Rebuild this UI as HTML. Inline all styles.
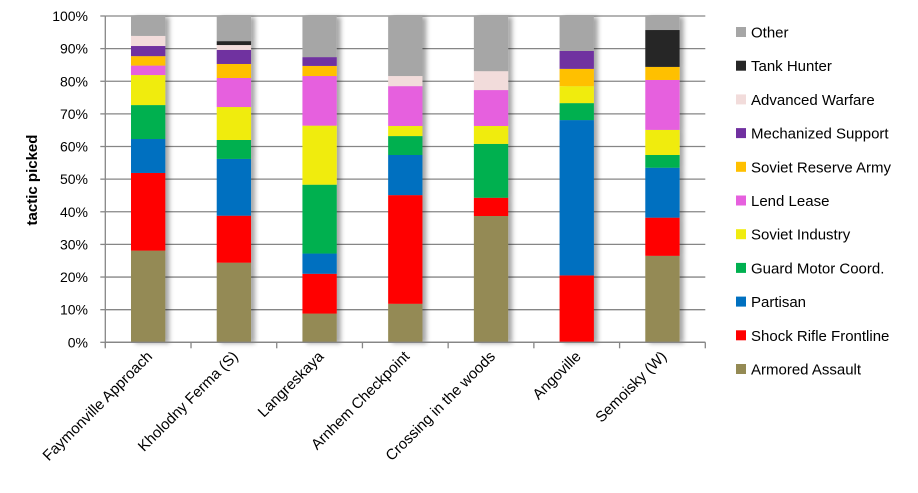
<!DOCTYPE html>
<html><head><meta charset="utf-8"><style>
body{margin:0;background:#fff;}
svg{display:block;font-family:"Liberation Sans",sans-serif;}
</style></head><body>
<svg id="chart" width="918" height="493">
<defs><filter id="sh" x="-20%" y="-5%" width="160%" height="110%"><feDropShadow dx="4" dy="1" stdDeviation="2.5" flood-color="#000" flood-opacity="0.35"/></filter></defs>
<g id="grid"></g>
<g id="bars"></g>
<g id="axes"></g>
<g id="legend"></g>
<text transform="translate(37,180) rotate(-90)" text-anchor="middle" font-size="15" font-weight="bold">tactic picked</text>
</svg>
<script>
const categories=["Faymonville Approach","Kholodny Ferma (S)","Langreskaya","Arnhem Checkpoint","Crossing in the woods","Angoville","Semoisky (W)"];
const seriesNames=["Armored Assault","Shock Rifle Frontline","Partisan","Guard Motor Coord.","Soviet Industry","Lend Lease","Soviet Reserve Army","Mechanized Support","Advanced Warfare","Tank Hunter","Other"];
const seriesColors=["#948A54","#FF0000","#0070C0","#00B050","#F0EC10","#E660DE","#FFC000","#7030A0","#F2DCDB","#262626","#A6A6A6"];
const armoredAssault=[28.1,24.4,8.8,11.8,38.7,0,26.5];
const shockRifle=[23.8,14.4,12.2,33.3,5.6,20.5,11.7];
const partisan=[10.4,17.4,6.2,12.3,0,47.6,15.3];
const guardMotor=[10.4,5.8,21.1,5.8,16.5,5.2,3.9];
const sovietIndustry=[9.2,10.1,18.1,3.1,5.5,5.2,7.7];
const lendLease=[2.9,8.9,15.2,12.2,11.0,0,15.3];
const sovietReserve=[2.9,4.3,3.1,0,0,5.3,4.0];
const mechanized=[3.1,4.3,2.7,0,0,5.5,0];
const advancedWarfare=[3.1,1.5,0,3.1,5.8,0,0];
const tankHunter=[0,1.2,0,0,0,0,11.3];
const other=[6.1,7.7,12.6,18.4,16.9,10.7,4.3];
const yTicks=["0%","10%","20%","30%","40%","50%","60%","70%","80%","90%","100%"];
const series=[armoredAssault,shockRifle,partisan,guardMotor,sovietIndustry,lendLease,sovietReserve,mechanized,advancedWarfare,tankHunter,other];

const NS="http://www.w3.org/2000/svg";
const X0=105.3,X1=705.3,Y0=342.3,Y1=16;
const band=(X1-X0)/categories.length, barW=34.3;
const y=v=>Y0-(Y0-Y1)*v/100;
const xc=i=>X0+band*(i+0.5);
function mk(tag,attrs,parent){const e=document.createElementNS(NS,tag);for(const k in attrs)e.setAttribute(k,attrs[k]);parent.appendChild(e);return e;}
const grid=document.getElementById('grid'),bars=document.getElementById('bars'),axes=document.getElementById('axes'),legend=document.getElementById('legend');
yTicks.forEach((t,i)=>{
  const v=i*10;
  const l=mk('line',{x1:X0,x2:X1,y1:y(v),y2:y(v),stroke:'#868686','stroke-width':1.3},grid);
  
  
  const tk=mk('line',{x1:X0-5,x2:X0,y1:y(v),y2:y(v),stroke:'#868686','stroke-width':1.3},axes);
  
  
  const tx=mk('text',{x:88,y:y(v)+5,'text-anchor':'end','font-size':14},axes);
  tx.textContent=t;
  
  
});
const ya=mk('line',{x1:X0,x2:X0,y1:Y1,y2:Y0+5,stroke:'#868686','stroke-width':1.3},axes);


for(let i=0;i<=categories.length;i++){
  const t=mk('line',{x1:X0+band*i,x2:X0+band*i,y1:Y0,y2:Y0+6,stroke:'#868686','stroke-width':1.3},axes);
  
  
}
categories.forEach((c,i)=>{
  const g=mk('g',{filter:'url(#sh)'},bars);
  
  
  let acc=0;
  series.forEach((s,k)=>{
    const v=s[i]; if(v<=0)return;
    const r=mk('rect',{x:xc(i)-barW/2,y:y(acc+v),width:barW,height:y(acc)-y(acc+v),fill:seriesColors[k]},g);
    
    
    acc+=v;
  });
  const tx=mk('text',{transform:`translate(${xc(i)+5},${Y0+15}) rotate(-45)`,'text-anchor':'end','font-size':15},axes);
  tx.textContent=c;
  
  
});
const xa=mk('line',{x1:X0,x2:X1,y1:Y0,y2:Y0,stroke:'#868686','stroke-width':1.3},axes);


for(let k=seriesNames.length-1;k>=0;k--){
  const row=seriesNames.length-1-k, cy=32+row*33.7;
  const g=mk('g',{},legend);
  
  
  mk('rect',{x:736,y:cy-5,width:10,height:10,fill:seriesColors[k]},g);
  const tx=mk('text',{x:751,y:cy+5.5,'font-size':15},g);
  tx.textContent=seriesNames[k];
}
</script>
</body></html>
